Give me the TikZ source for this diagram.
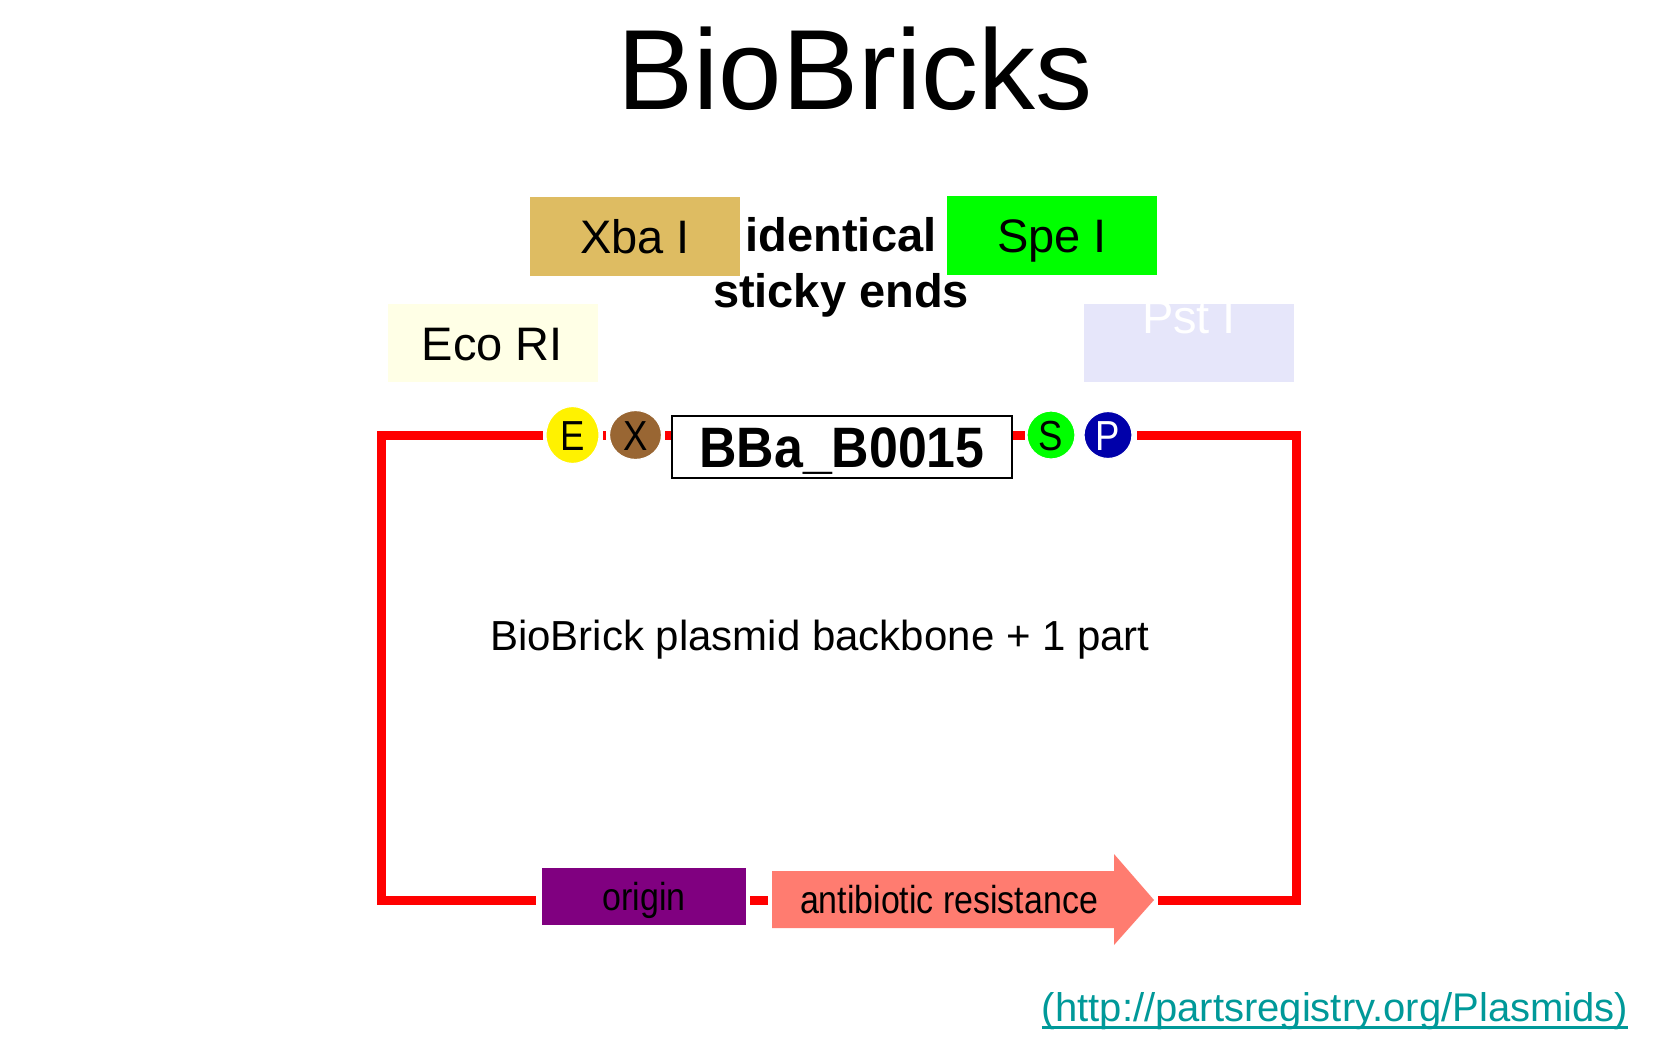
\documentclass[tikz,border=0pt]{standalone}
\usepackage{fontspec}
\setmainfont{Liberation Sans}
\usepackage{graphicx}
\usetikzlibrary{shapes.geometric}
\definecolor{xbac}{RGB}{222,188,98}
\definecolor{ecoc}{RGB}{255,255,230}
\definecolor{spec}{RGB}{0,255,0}
\definecolor{pstc}{RGB}{230,230,250}
\definecolor{brownx}{RGB}{153,102,51}
\definecolor{navyp}{RGB}{0,0,170}
\definecolor{purpo}{RGB}{128,0,128}
\definecolor{salm}{RGB}{255,124,112}
\definecolor{teal}{RGB}{0,153,153}
\newcommand\fsz[1]{\fontsize{#1}{#1}\selectfont}
\newcommand\cnd[1]{\scalebox{0.87}[1]{#1}}
\begin{document}
\begin{tikzpicture}[x=1pt,y=-1pt,
  enz/.style={inner sep=0pt, minimum width=210pt, minimum height=79pt, text height=34pt, text depth=0pt, font=\fsz{47}},
  site/.style={ellipse, inner sep=0pt, draw=white, line width=1.2pt, text height=30pt, text depth=0pt, font=\fsz{42}},
  bb/.style={draw=red, line width=9pt, line join=miter, line cap=butt},
  lbl/.style={inner sep=0pt, anchor=base}]
\fill[white] (0,0) rectangle (1680,1050);
\useasboundingbox (0,0) rectangle (1680,1050);

% title
\node[lbl, font=\fsz{114}] (title) at (855,109) {BioBricks};

% enzyme boxes
\node[enz, fill=xbac] (xba) at (635,236.5) {Xba I};
\node[enz, fill=spec] (spe) at (1052,235.5) {Spe I};
\node[enz, fill=ecoc, minimum height=78pt] (eco) at (492.5,343) {Eco RI};
\node[enz, fill=pstc, minimum height=78pt] (pst) at (1189,343) {};
\node[lbl, font=\fsz{47}, text=white] (psttxt) at (1189,333) {Pst I};

\node[lbl, font=\bfseries\fsz{47}] (ident) at (841,251) {identical};
\node[lbl, font=\bfseries\fsz{47}] (sticky) at (841,307) {sticky ends};

% corners of the backbone
\coordinate (tl) at (381,435);
\coordinate (bl) at (381,900);
\coordinate (br) at (1296,900);
\coordinate (tr) at (1296,435);

% part box and sites
\node[draw=black, line width=2.5pt, fill=white, inner sep=0pt, minimum width=340pt, minimum height=62pt,
      text height=41pt, text depth=0pt, font=\bfseries\fsz{57}] (bba) at (842,447) {\scalebox{0.91}[1]{BBa\_B0015}};
\node[site, fill=yellow, minimum width=53pt, minimum height=57pt] (E) at (572.5,435) {\cnd{E}};
\node[site, fill=brownx, minimum width=52pt, minimum height=49pt] (X) at (635.5,435) {\cnd{X}};
\node[site, fill=spec, minimum width=48pt, minimum height=48pt] (S) at (1051,435) {\cnd{S}};
\node[site, fill=navyp, text=white, minimum width=48pt, minimum height=47pt] (P) at (1108,435) {\cnd{P}};

% origin and resistance
\node[fill=purpo, inner sep=0pt, minimum width=204pt, minimum height=57pt, text height=27pt, text depth=0pt,
      font=\fsz{39}] (ori) at (644,896.5) {\cnd{origin}};
\coordinate (arrW) at (772,900);
\coordinate (arrT) at (1154,900);
\fill[salm] (772,871) -- (1114,871) -- (1114,854) -- (arrT) -- (1114,945) -- (1114,928) -- (772,928) -- cycle;
\node[lbl, font=\fsz{39}] (res) at (949,913) {\cnd{antibiotic resistance}};

% backbone
\draw[bb] ([xshift=-2pt]E.west) -- (tl) -- (bl) -- ([xshift=-6pt]ori.west |- bl);
\draw[bb] ([xshift=4pt]ori.east |- bl) -- ([xshift=-4pt]arrW);
\draw[bb] ([xshift=4pt]arrT) -- (br) -- (tr) -- ([xshift=4pt]P.east);
\draw[bb] ([xshift=3.5pt]E.east) -- ([xshift=-3pt]X.west);
\draw[bb] ([xshift=3pt]X.east) -- (bba.west |- tl);
\draw[bb] (bba.east |- tl) -- ([xshift=-1pt]S.west);

% caption
\node[lbl, font=\fsz{42}] (cap) at (820,650) {BioBrick plasmid backbone + 1 part};

% url
\node[lbl, font=\fsz{40}, text=teal] (url) at (1335,1021) {(http://partsregistry.org/Plasmids)};
\draw[teal, line width=3pt] ([yshift=-6pt]url.base west) -- ([yshift=-6pt]url.base east);
\end{tikzpicture}
\end{document}
